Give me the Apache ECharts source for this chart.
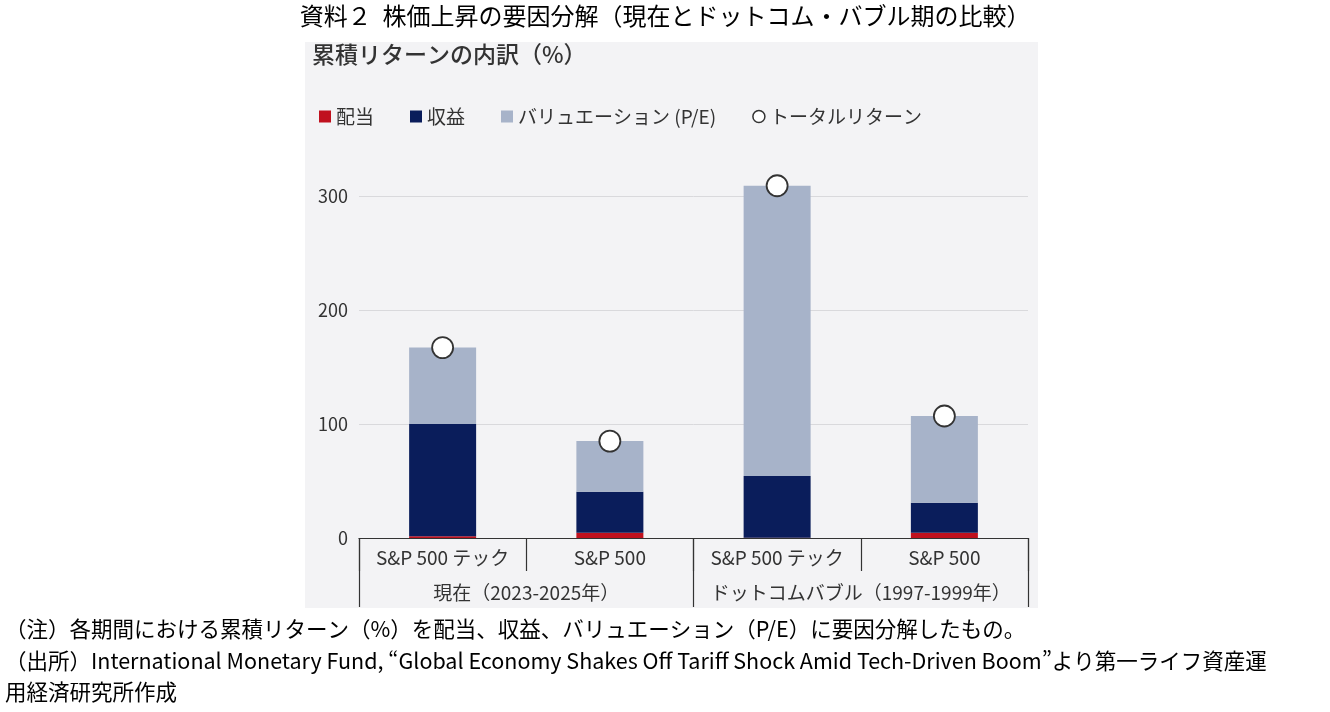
<!DOCTYPE html>
<html lang="ja">

<head>
    <meta charset="UTF-8">
    <title>株価上昇の要因分解</title>
    <script src="https://cdn.jsdelivr.net/npm/echarts@6/dist/echarts.min.js"></script>
    <style>
        body { margin: 0; background: #fff; }
        #main { width: 1330px; height: 712px; }
    </style>
</head>

<body>
    <div id="main"></div>
    <script>
        // data (%)
        var subCats = ['S&P 500 テック', 'S&P 500', 'S&P 500 テック', 'S&P 500'];
        var groupCats = ['現在（2023-2025年）', 'ドットコムバブル（1997-1999年）'];
        var dividend = [1.5, 4.5, 0.3, 4.5];
        var earnings = [98.5, 36, 54, 26.5];
        var valuation = [67, 44.5, 254.7, 76];
        var totalReturn = [167, 85, 309, 107];
        var yTicks = [0, 100, 200, 300];

        var font = '"Noto Sans CJK JP", "Noto Sans", sans-serif';
        var myChart = echarts.init(document.getElementById('main'));

        myChart.setOption({
            backgroundColor: '#fff',
            textStyle: { fontFamily: font },
            graphic: [
                { type: 'rect', z: -10, shape: { x: 305, y: 42, width: 733, height: 566 }, style: { fill: '#f3f3f5' } },
                { type: 'text', left: 'center', top: 4, style: { text: '資料２  株価上昇の要因分解（現在とドットコム・バブル期の比較）', font: '24px ' + font, fill: '#000' } },
                { type: 'text', left: 312, top: 43, style: { text: '累積リターンの内訳（%）', font: '500 23px ' + font, fill: '#333' } },
                { type: 'text', left: 5, top: 618, style: { text: '（注）各期間における累積リターン（%）を配当、収益、バリュエーション（P/E）に要因分解したもの。', font: '21.5px ' + font, fill: '#000' } },
                { type: 'text', left: 5, top: 650, style: { text: '（出所）International Monetary Fund, “Global Economy Shakes Off Tariff Shock Amid Tech-Driven Boom”より第一ライフ資産運', font: '21.5px ' + font, fill: '#000' } },
                { type: 'text', left: 5, top: 681, style: { text: '用経済研究所作成', font: '21.5px ' + font, fill: '#000' } }
            ],
            legend: {
                left: 314,
                top: 102,
                itemGap: 36,
                itemWidth: 12,
                itemHeight: 12,
                textStyle: { fontSize: 19, color: '#333', fontFamily: font },
                data: [
                    { name: '配当', icon: 'rect' },
                    { name: '収益', icon: 'rect' },
                    { name: 'バリュエーション (P/E)', icon: 'rect' },
                    { name: 'トータルリターン', icon: 'circle', itemStyle: { color: '#fff', borderColor: '#333', borderWidth: 1.5 } }
                ]
            },
            grid: { left: 359, right: 302, top: 196, bottom: 174, containLabel: false },
            xAxis: [
                {
                    type: 'category',
                    data: subCats,
                    axisLine: { lineStyle: { color: '#333', width: 1.2 } },
                    axisTick: { show: true, length: 33, interval: 0, lineStyle: { color: '#333', width: 1.2 } },
                    axisLabel: { interval: 0, margin: 10, fontSize: 19, color: '#333', fontFamily: font }
                },
                {
                    type: 'category',
                    position: 'bottom',
                    data: groupCats,
                    axisLine: { show: false },
                    axisTick: { show: true, length: 69, interval: 0, lineStyle: { color: '#333', width: 1.2 } },
                    axisLabel: { interval: 0, margin: 45, fontSize: 19, color: '#333', fontFamily: font }
                }
            ],
            yAxis: {
                type: 'value',
                min: yTicks[0],
                max: yTicks[yTicks.length - 1],
                interval: 100,
                axisLine: { show: false },
                axisTick: { show: false },
                axisLabel: { fontSize: 18, color: '#333', margin: 11 },
                splitLine: { lineStyle: { color: '#d9d9dc' } }
            },
            series: [
                { name: '配当', type: 'bar', stack: 'r', data: dividend, barWidth: 67, clip: false, itemStyle: { color: '#c0111e' } },
                { name: '収益', type: 'bar', stack: 'r', data: earnings, clip: false, itemStyle: { color: '#0a1d5b' } },
                { name: 'バリュエーション (P/E)', type: 'bar', stack: 'r', data: valuation, clip: false, itemStyle: { color: '#a7b3c9' } },
                {
                    name: 'トータルリターン', type: 'scatter', data: totalReturn, symbolSize: 21, clip: false, z: 5,
                    itemStyle: { color: '#fff', borderColor: '#333', borderWidth: 1.8, opacity: 1 }
                }
            ]
        });
    </script>
</body>

</html>
